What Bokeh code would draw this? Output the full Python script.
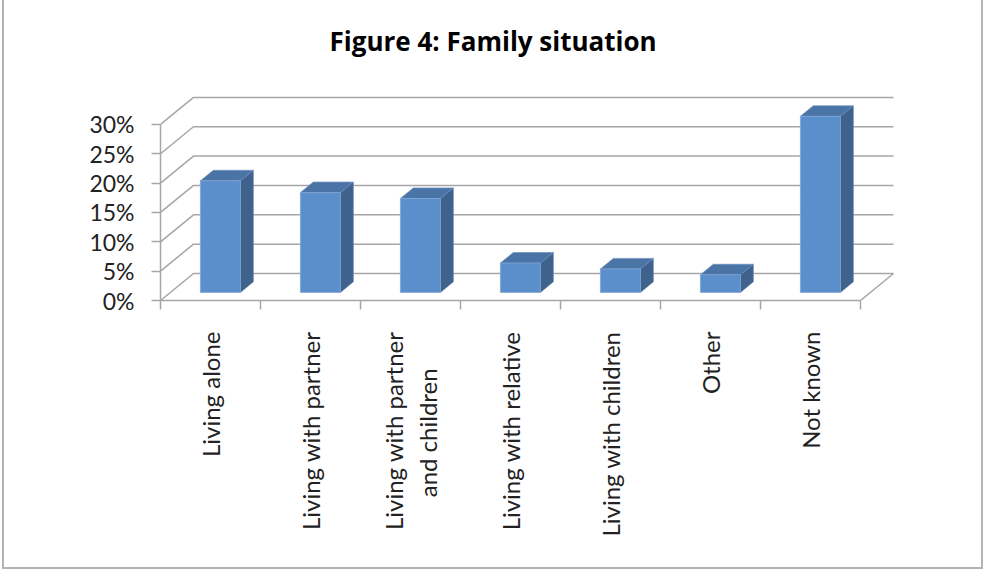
import math
from bokeh.plotting import figure
from bokeh.models import FixedTicker, Title
from bokeh.embed import file_html
from bokeh.resources import INLINE

# ---------------- data ----------------
categories = [
    "Living alone",
    "Living with partner",
    "Living with partner\nand children",
    "Living with relative",
    "Living with children",
    "Other",
    "Not known",
]
values = [19, 17, 16, 5, 4, 3, 30]
y_ticks = [0, 5, 10, 15, 20, 25, 30]
y_tick_labels = ["0%", "5%", "10%", "15%", "20%", "25%", "30%"]
title_text = "Figure 4: Family situation"

# ---------------- layout / style ----------------
W, H = 984, 571
FL, FR, FT, FB = 160, 898, 95, 300      # frame edges in pixels
UNIT_X = 100.0                           # px per category
UNIT_Y = 5.87                            # px per percent
DEPTH_X, DEPTH_Y = 0.33, 4.6             # depth of the 3-D floor (data units)
BAR_W = 0.4
BAR_FRONT, BAR_BACK = 0.3, 0.69          # depth fractions of bar faces
GRID = "#A6A6A6"
FRONT_C, SIDE_C, TOP_C = "#5A8FCB", "#3F628D", "#4A74A6"
FONT = "Lato"
NBSP = "\u00a0"


def centred_lines(label):
    """Pad shorter lines of a multi-line tick label so the lines look centred
    (the axis aligns all lines at the end nearest the axis)."""
    lines = label.split("\n")
    if len(lines) == 1:
        return label
    longest = max(len(s) for s in lines)
    out = []
    for s in lines:
        pad = int(round((longest - len(s)) * 0.85))
        out.append(s + NBSP * pad if pad > 0 else s)
    return "\n".join(out)


n = len(categories)
x_end = (FR - FL) / UNIT_X
y_end = (FB - FT) / UNIT_Y

p = figure(
    width=W, height=H,
    x_range=(0, x_end), y_range=(0, y_end),
    output_backend="svg", toolbar_location=None,
    min_border_left=FL, min_border_right=W - FR,
    min_border_top=FT, min_border_bottom=H - FB,
)
p.grid.visible = False
p.outline_line_color = None
p.background_fill_color = "white"
p.border_fill_color = None
# outer chart border (left, right, bottom) drawn as inset shadows of the host
p.styles = {
    "box-shadow": ("inset 2px 0 0 0 #FFFFFF, inset -1px 0 0 0 #FFFFFF, "
                   "inset 0 -2px 0 0 #FFFFFF, "
                   "inset 4px 0 0 0 #B4B4B4, inset -3px 0 0 0 #B4B4B4, "
                   "inset 0 -4px 0 0 #B4B4B4")
}

# titles: a spacer next to the frame, then the real title above it
p.title.text = ""
p.add_layout(Title(text=" ", text_font_size="1px", standoff=32), "above")
p.add_layout(Title(text=title_text, text_font="Open Sans", text_font_size="26px",
                   text_font_style="bold", text_color="black",
                   align="left", offset=169, standoff=4), "above")

# y axis
ya = p.yaxis[0]
ya.ticker = FixedTicker(ticks=y_ticks, minor_ticks=[])
ya.major_label_overrides = {t: lab for t, lab in zip(y_ticks, y_tick_labels)}
ya.bounds = (y_ticks[0], y_ticks[-1])
ya.axis_line_color = GRID
ya.axis_line_width = 1.5
ya.major_tick_line_color = GRID
ya.major_tick_line_width = 1.5
ya.major_tick_out = 9
ya.major_tick_in = 0
ya.major_label_standoff = 17
ya.major_label_text_font = FONT
ya.major_label_text_font_size = "23px"
ya.major_label_text_color = "#222222"

# x axis
xa = p.xaxis[0]
centers = [i + 0.5 for i in range(n)]
xa.ticker = FixedTicker(ticks=centers, minor_ticks=list(range(n + 1)))
xa.major_label_overrides = {c: centred_lines(lab) for c, lab in zip(centers, categories)}
xa.bounds = (0, n)
xa.axis_line_color = GRID
xa.axis_line_width = 1.5
xa.major_tick_out = 0
xa.major_tick_in = 0
xa.minor_tick_line_color = GRID
xa.minor_tick_line_width = 1.5
xa.minor_tick_out = 9
xa.minor_tick_in = 0
xa.major_label_orientation = math.pi / 2
xa.major_label_standoff = 22
xa.major_label_text_font = FONT
xa.major_label_text_font_size = "24px"
xa.major_label_text_color = "#222222"

# back wall gridlines + left wall diagonals + floor right edge
gxs, gys = [], []
for t in y_ticks:
    gxs.append([0, DEPTH_X, n + DEPTH_X])
    gys.append([t, t + DEPTH_Y, t + DEPTH_Y])
gxs.append([n, n + DEPTH_X])
gys.append([0, DEPTH_Y])
p.multi_line(gxs, gys, line_color=GRID, line_width=1.5)

# bars
fx, fy, sx, sy, tx, ty = [], [], [], [], [], []
ddx = (BAR_BACK - BAR_FRONT) * DEPTH_X
ddy = (BAR_BACK - BAR_FRONT) * DEPTH_Y
for i, v in enumerate(values):
    x0 = i + 0.5 - BAR_W / 2 + BAR_FRONT * DEPTH_X
    x1 = x0 + BAR_W
    y0 = BAR_FRONT * DEPTH_Y
    y1 = y0 + v
    fx.append([x0, x1, x1, x0]); fy.append([y0, y0, y1, y1])
    sx.append([x1, x1 + ddx, x1 + ddx, x1]); sy.append([y0, y0 + ddy, y1 + ddy, y1])
    tx.append([x0, x1, x1 + ddx, x0 + ddx]); ty.append([y1, y1, y1 + ddy, y1 + ddy])

p.patches(sx, sy, fill_color=SIDE_C, line_color="#5579A6", line_width=0.7)
p.patches(tx, ty, fill_color=TOP_C, line_color="#6A90C0", line_width=0.7)
p.patches(fx, fy, fill_color=FRONT_C, line_color="#7FA6D6", line_width=0.8)

open("out.html", "w").write(file_html(p, INLINE))
